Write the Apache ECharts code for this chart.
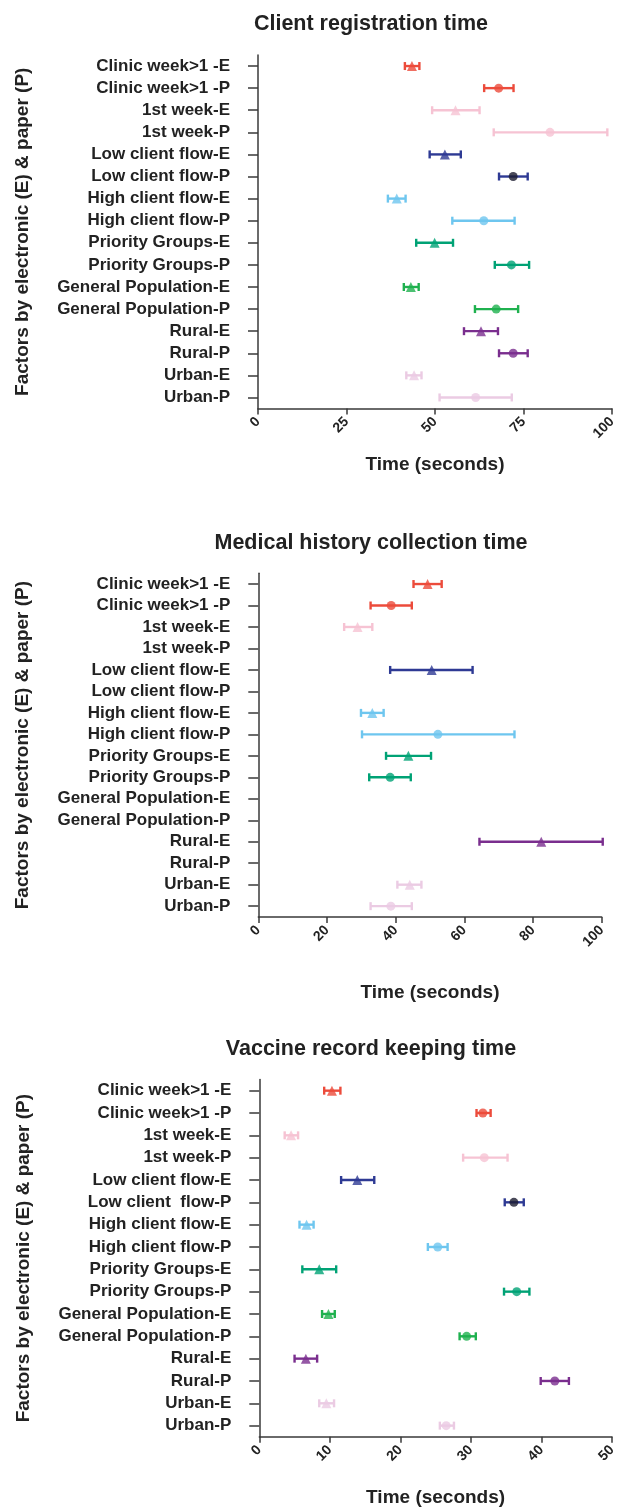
<!DOCTYPE html>
<html>
<head>
<meta charset="utf-8">
<script src="https://cdn.jsdelivr.net/npm/echarts@6/dist/echarts.min.js"></script>
<style>
  html, body { margin: 0; padding: 0; background: #fff; }
  #chart { width: 619px; height: 1508px; }
</style>
</head>
<body>
<div id="chart"></div>
<script>
// categories (top to bottom)
const categories = ['Clinic week>1 -E', 'Clinic week>1 -P', '1st week-E', '1st week-P', 'Low client flow-E', 'Low client flow-P', 'High client flow-E', 'High client flow-P', 'Priority Groups-E', 'Priority Groups-P', 'General Population-E', 'General Population-P', 'Rural-E', 'Rural-P', 'Urban-E', 'Urban-P']
const categoriesVaccine = ['Clinic week>1 -E', 'Clinic week>1 -P', '1st week-E', '1st week-P', 'Low client flow-E', 'Low client  flow-P', 'High client flow-E', 'High client flow-P', 'Priority Groups-E', 'Priority Groups-P', 'General Population-E', 'General Population-P', 'Rural-E', 'Rural-P', 'Urban-E', 'Urban-P']

// Client registration time
const regMean = [43.5, 68.0, 55.8, 82.5, 52.8, 72.1, 39.2, 63.8, 49.9, 71.6, 43.2, 67.3, 63.0, 72.1, 44.1, 61.5]
const regLow = [41.5, 63.9, 49.2, 66.6, 48.5, 68.1, 36.7, 54.9, 44.7, 66.9, 41.2, 61.3, 58.2, 68.1, 41.9, 51.3]
const regHigh = [45.6, 72.2, 62.6, 98.7, 57.3, 76.2, 41.7, 72.5, 55.1, 76.6, 45.4, 73.5, 67.8, 76.2, 46.2, 71.7]

// Medical history collection time
const histMean = [49.3, 38.7, 28.9, null, 50.5, null, 33.2, 52.3, 43.7, 38.4, null, null, 82.4, null, 44.1, 38.6]
const histLow = [45.2, 32.7, 25.0, null, 38.4, null, 29.9, 30.2, 37.2, 32.3, null, null, 64.4, null, 40.5, 32.7]
const histHigh = [53.4, 44.7, 33.2, null, 62.4, null, 36.5, 74.6, 50.3, 44.4, null, null, 100.3, null, 47.5, 44.7]

// Vaccine record keeping time
const vacMean = [10.3, 31.7, 4.5, 31.9, 13.9, 36.1, 6.7, 25.3, 8.5, 36.5, 9.8, 29.4, 6.6, 41.9, 9.5, 26.5]
const vacLow = [9.2, 30.8, 3.6, 28.9, 11.6, 34.8, 5.7, 23.9, 6.1, 34.7, 8.9, 28.4, 5.0, 39.9, 8.5, 25.6]
const vacHigh = [11.5, 32.8, 5.5, 35.2, 16.3, 37.5, 7.7, 26.7, 10.9, 38.3, 10.7, 30.7, 8.2, 43.9, 10.6, 27.6]

// colours per row
const barColors = ['#ec4b3b', '#ec4b3b', '#f6c3d3', '#f6c3d3', '#2e3a94', '#2e3a94', '#6ec6ef', '#6ec6ef', '#00a275', '#00a275', '#1fb14f', '#1fb14f', '#7a2e8e', '#7a2e8e', '#ebcbe3', '#ebcbe3']
const markerColors = barColors.map((c, i) => (i === 5 ? '#1b1b2f' : c))

const FONT = 'Liberation Sans, Arial, Helvetica, sans-serif'
const AXIS_COLOR = '#3a3a3a'
const TEXT_COLOR = '#222'

const panels = [
  { title: 'Client registration time', titleTop: 8, cats: categories, mean: regMean, low: regLow, high: regHigh,
    grid: { left: 258, right: 4, top: 55, height: 353.5 }, max: 100, interval: 25, nameGap: 47 },
  { title: 'Medical history collection time', titleTop: 527, cats: categories, mean: histMean, low: histLow, high: histHigh,
    grid: { left: 258.3, right: 17.3, top: 573.3, height: 343.6 }, max: 100, interval: 20, nameGap: 66 },
  { title: 'Vaccine record keeping time', titleTop: 1033, cats: categoriesVaccine, mean: vacMean, low: vacLow, high: vacHigh,
    grid: { left: 259.3, right: 4, top: 1079.5, height: 357.3 }, max: 50, interval: 10, nameGap: 51 }
]

// error bar with caps
function renderBar(params, api) {
  const idx = api.value(2)
  const lo = api.coord([api.value(0), idx])
  const hi = api.coord([api.value(1), idx])
  const h = 4
  const style = { stroke: barColors[idx], lineWidth: 2.4 }
  return {
    type: 'group',
    children: [
      { type: 'line', shape: { x1: lo[0], y1: lo[1], x2: hi[0], y2: hi[1] }, style },
      { type: 'line', shape: { x1: lo[0], y1: lo[1] - h, x2: lo[0], y2: lo[1] + h }, style },
      { type: 'line', shape: { x1: hi[0], y1: hi[1] - h, x2: hi[0], y2: hi[1] + h }, style }
    ]
  }
}

const title = []
const grid = []
const xAxis = []
const yAxis = []
const series = []

panels.forEach((p, k) => {
  title.push({
    text: p.title,
    left: 366,
    top: p.titleTop,
    textAlign: 'center',
    textStyle: { fontFamily: FONT, fontSize: 21.5, fontWeight: 'bold', color: TEXT_COLOR }
  })
  grid.push({ ...p.grid, containLabel: false })

  xAxis.push({
    type: 'value',
    gridIndex: k,
    min: 0,
    max: p.max,
    interval: p.interval,
    name: 'Time (seconds)',
    nameLocation: 'middle',
    nameGap: p.nameGap,
    nameTextStyle: { fontFamily: FONT, fontSize: 19, fontWeight: 'bold', color: TEXT_COLOR },
    splitLine: { show: false },
    axisLine: { show: true, lineStyle: { color: AXIS_COLOR, width: 1.5 } },
    axisTick: { show: true, length: 6, lineStyle: { color: AXIS_COLOR, width: 1.5 } },
    axisLabel: { rotate: 45, margin: 11, fontFamily: FONT, fontSize: 14, fontWeight: 'bold', color: TEXT_COLOR }
  })

  yAxis.push({
    type: 'category',
    gridIndex: k,
    data: p.cats,
    inverse: true,
    name: 'Factors by electronic (E) & paper (P)',
    nameLocation: 'middle',
    nameGap: 226,
    nameTextStyle: { fontFamily: FONT, fontSize: 19, fontWeight: 'bold', color: TEXT_COLOR },
    axisLine: { show: true, lineStyle: { color: AXIS_COLOR, width: 1.5 } },
    axisTick: { show: true, alignWithLabel: true, interval: 0, length: 10, lineStyle: { color: AXIS_COLOR, width: 1.5 } },
    axisLabel: { interval: 0, margin: 28, fontFamily: FONT, fontSize: 17, fontWeight: 'bold', color: TEXT_COLOR }
  })

  const barData = []
  const meanData = []
  p.mean.forEach((m, i) => {
    if (m === null) return
    barData.push([p.low[i], p.high[i], i])
    meanData.push({
      value: [m, i],
      symbol: i % 2 === 0 ? 'triangle' : 'circle',
      symbolSize: i % 2 === 0 ? 10 : 9,
      itemStyle: { color: markerColors[i] }
    })
  })

  series.push({
    type: 'custom',
    xAxisIndex: k,
    yAxisIndex: k,
    renderItem: renderBar,
    encode: { x: [0, 1], y: 2 },
    data: barData,
    clip: false,
    silent: true
  })
  series.push({
    type: 'scatter',
    xAxisIndex: k,
    yAxisIndex: k,
    data: meanData,
    clip: false,
    z: 3
  })
})

const chart = echarts.init(document.getElementById('chart'), null, { renderer: 'canvas' })
chart.setOption({
  animation: false,
  backgroundColor: '#fff',
  title,
  grid,
  xAxis,
  yAxis,
  series
})
</script>
</body>
</html>
